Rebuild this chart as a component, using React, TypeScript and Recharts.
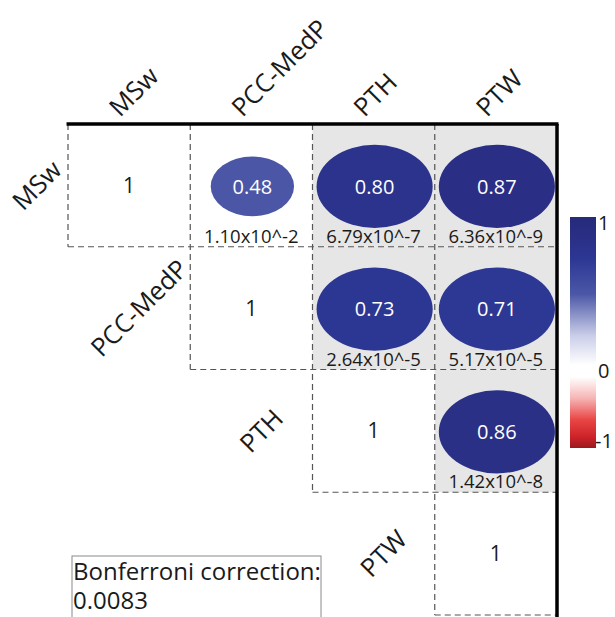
import React from 'react';
import { ScatterChart, Scatter, XAxis, YAxis, ReferenceArea, ReferenceLine, ReferenceDot } from 'recharts';

// ---------- data ----------
const variables = ['MSw', 'PCC-MedP', 'PTH', 'PTW'];
const pairRow = [0, 0, 0, 1, 1, 2];
const pairCol = [1, 2, 3, 2, 3, 3];
const corrValues = [0.48, 0.80, 0.87, 0.73, 0.71, 0.86];
const pValues = [1.10e-2, 6.79e-7, 6.36e-9, 2.64e-5, 5.17e-5, 1.42e-8];
const pValueLabels = ['1.10x10^-2', '6.79x10^-7', '6.36x10^-9', '2.64x10^-5', '5.17x10^-5', '1.42x10^-8'];
const bonferroni = 0.0083;
const bonferroniLabel = '0.0083';
const colorbarTicks = [1, 0, -1];

// ---------- layout ----------
const W = 615;
const H = 617;
const MARGIN = { top: 124, right: 58, bottom: 2, left: 68 };
const N = variables.length;
const CELL_W = (W - MARGIN.left - MARGIN.right) / N;
const CELL_H = (H - MARGIN.top - MARGIN.bottom) / N;
const FONT = '"Open Sans", "Noto Sans", sans-serif';

const hex = (h: string) => [1, 3, 5].map((i) => parseInt(h.slice(i, i + 2), 16));
const mix = (a: string, b: string, t: number) => {
  const A = hex(a), B = hex(b);
  return `rgb(${A.map((v, i) => Math.round(v + (B[i] - v) * t)).join(',')})`;
};
const blueStops: [number, string][] = [[0, '#ffffff'], [0.2, '#c9cde8'], [0.48, '#4b57a6'], [0.72, '#2c3794'], [0.87, '#2a2f85'], [1, '#252a7b']];
const redStops: [number, string][] = [[0, '#ffffff'], [0.3, '#f6b4b4'], [0.6, '#ea4646'], [0.85, '#cc2227'], [1, '#9a1a1e']];
const corrColor = (r: number) => {
  const stops = r >= 0 ? blueStops : redStops;
  const a = Math.abs(r);
  for (let i = 1; i < stops.length; i++) {
    if (a <= stops[i][0]) {
      const t = (a - stops[i - 1][0]) / (stops[i][0] - stops[i - 1][0]);
      return mix(stops[i - 1][1], stops[i][1], t);
    }
  }
  return stops[stops.length - 1][1];
};

const pairData = corrValues.map((r, i) => ({
  x: pairCol[i] + 0.5,
  y: pairRow[i] + 0.5,
  r,
  p: pValues[i],
  pLabel: pValueLabels[i],
}));
const diagData = variables.map((_, i) => ({ x: i + 0.5, y: i + 0.5 }));

const CorrShape = (props: any) => {
  const { cx, cy, payload } = props;
  const rx = (CELL_W / 2) * Math.min(0.95, 0.12 + 1.17 * Math.abs(payload.r));
  const ry = rx * 0.715;
  return (
    <g>
      <ellipse cx={cx + 1} cy={cy + 1} rx={rx} ry={ry} fill={corrColor(payload.r)} />
      <text x={cx + 1} y={cy + 1} dy="0.36em" textAnchor="middle" fill="#ffffff" fontSize={20} fontFamily={FONT}>
        {payload.r.toFixed(2)}
      </text>
      <text x={cx} y={cy + CELL_H / 2 - 4} textAnchor="middle" fill="#1a1a1a" fontSize={18.5} fontFamily={FONT}>
        {payload.pLabel}
      </text>
    </g>
  );
};

const DiagShape = (props: any) => {
  const { cx, cy } = props;
  return (
    <text x={cx} y={cy} dy="0.36em" textAnchor="middle" fill="#1a1a1a" fontSize={21} fontFamily={FONT}>
      1
    </text>
  );
};

const dashed = { stroke: '#555555', strokeWidth: 1.2, strokeDasharray: '6 4' };

// colorbar geometry (pixels)
const CB_X = 570, CB_W = 26, CB_TOP = 217, CB_ZERO_TOP = 365, CB_ZERO_BOT = 377, CB_BOT = 448;
const cbY = (v: number) => (v > 0 ? CB_TOP + 6 : v < 0 ? CB_BOT - 7 : (CB_ZERO_TOP + CB_ZERO_BOT) / 2);

export default function App() {
  return (
    <div style={{ position: 'absolute', left: 0, top: 0, background: '#ffffff' }}>
      <ScatterChart width={W} height={H} margin={MARGIN}>
        <defs>
          <linearGradient id="cbBlue" x1="0" y1="0" x2="0" y2="1">
            {blueStops.slice().reverse().map(([v, c], i) => (
              <stop key={i} offset={1 - v} stopColor={c} />
            ))}
          </linearGradient>
          <linearGradient id="cbRed" x1="0" y1="0" x2="0" y2="1">
            {redStops.map(([v, c], i) => (
              <stop key={i} offset={v} stopColor={c} />
            ))}
          </linearGradient>
        </defs>
        <XAxis type="number" dataKey="x" domain={[0, N]} hide />
        <YAxis type="number" dataKey="y" domain={[0, N]} reversed hide />

        {pairData.filter((d) => d.p < bonferroni).map((d, i) => (
          <ReferenceArea key={`g${i}`} x1={d.x - 0.5} x2={d.x + 0.5} y1={d.y - 0.5} y2={d.y + 0.5} fill="#e6e6e6" fillOpacity={1} stroke="none" />
        ))}

        {variables.map((_, c) => (
          <ReferenceLine key={`v${c}`} segment={[{ x: c, y: 0 }, { x: c, y: c + 1 }]} ifOverflow="visible" {...dashed} />
        ))}
        {variables.map((_, r) => (
          <ReferenceLine key={`h${r}`} segment={[{ x: r, y: r + 1 }, { x: N, y: r + 1 }]} ifOverflow="visible" {...dashed} />
        ))}
        <ReferenceLine segment={[{ x: -0.012, y: 0 }, { x: N + 0.012, y: 0 }]} ifOverflow="visible" stroke="#000000" strokeWidth={3.5} />
        <ReferenceLine segment={[{ x: N, y: 0 }, { x: N, y: N + 0.03 }]} ifOverflow="visible" stroke="#000000" strokeWidth={3.5} />

        <Scatter data={pairData} shape={CorrShape} isAnimationActive={false} />
        <Scatter data={diagData} shape={DiagShape} isAnimationActive={false} />

        {variables.map((v, i) => (
          <ReferenceDot
            key={`cl${i}`}
            x={i + 0.5}
            y={0}
            ifOverflow="visible"
            shape={(p: any) => (
              <text x={p.cx - 9} y={p.cy - 6} transform={`rotate(-45 ${p.cx - 9} ${p.cy - 6})`} textAnchor="start" fill="#1a1a1a" fontSize={25.5} fontFamily={FONT}>
                {v}
              </text>
            )}
          />
        ))}
        {variables.map((v, i) => (
          <ReferenceDot
            key={`rl${i}`}
            x={i}
            y={i + 0.5}
            ifOverflow="visible"
            shape={(p: any) => {
              const x = Math.max(p.cx - 51, 37);
              return (
                <text x={x} y={p.cy} dy="0.35em" transform={`rotate(-45 ${x} ${p.cy})`} textAnchor="middle" fill="#1a1a1a" fontSize={25.5} fontFamily={FONT}>
                  {v}
                </text>
              );
            }}
          />
        ))}

        <g>
          <rect x={CB_X} y={CB_TOP} width={CB_W} height={CB_ZERO_TOP - CB_TOP} fill="url(#cbBlue)" />
          <rect x={CB_X} y={CB_ZERO_BOT} width={CB_W} height={CB_BOT - CB_ZERO_BOT} fill="url(#cbRed)" />
          {colorbarTicks.map((t, i) => (
            <text key={i} x={t < 0 ? 595 : 598} y={cbY(t)} dy="0.36em" textAnchor="start" fill="#1a1a1a" fontSize={20} fontFamily={FONT}>
              {t < 0 ? `-${Math.abs(t)}` : String(t)}
            </text>
          ))}
        </g>

        <g>
          <rect x={72} y={556} width={249} height={70} fill="#ffffff" stroke="#8a8a8a" strokeWidth={1} />
          <text x={73} y={580} fill="#1a1a1a" fontSize={24} fontFamily={FONT}>Bonferroni correction:</text>
          <text x={73} y={609} fill="#1a1a1a" fontSize={24} fontFamily={FONT}>{bonferroniLabel}</text>
        </g>
      </ScatterChart>
    </div>
  );
}
